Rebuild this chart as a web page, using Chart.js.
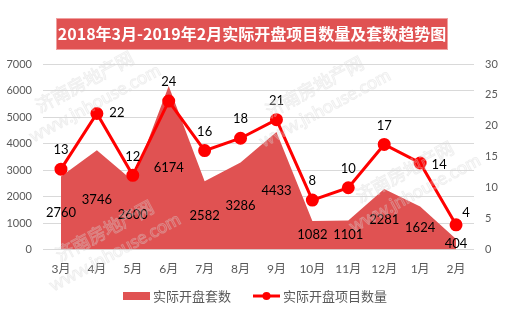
<!DOCTYPE html>
<html><head><meta charset="utf-8">
<script src="https://cdn.jsdelivr.net/npm/chart.js@4/dist/chart.umd.min.js"></script>
<style>html,body{margin:0;padding:0;background:#fff}#wrap{width:510px;height:330px;position:relative}</style>
</head><body><div id="wrap"><canvas id="c" width="510" height="330"></canvas></div>
<script>
const titleText = '2018年3月-2019年2月实际开盘项目数量及套数趋势图';
const categories = ['3月','4月','5月','6月','7月','8月','9月','10月','11月','12月','1月','2月'];
const unitsSold = [2760,3746,2600,6174,2582,3286,4433,1082,1101,2281,1624,404];
const projectCounts = [13,22,12,24,16,18,21,8,10,17,14,4];
const leftTicks = [0,1000,2000,3000,4000,5000,6000,7000];
const rightTicks = [0,5,10,15,20,25,30];
const seriesNames = ['实际开盘套数','实际开盘项目数量'];
const watermarkLines = ['济南房地产网','www.jnhouse.com'];

const AREA = '#e05252';
const LINE = '#ff0000';
const FONT = "Lato, 'Noto Sans CJK SC', sans-serif";
const CJK = "'Noto Sans CJK SC', sans-serif";
const GREY = '#595959';

const lineLabelShift = {1:[20,-1], 10:[19,2], 11:[10,-12]};

const decor = {
  id:'decor',
  beforeDraw(chart){
    const ctx = chart.ctx;
    ctx.save();
    ctx.fillStyle = '#fff';
    ctx.fillRect(0,0,chart.width,chart.height);
    ctx.fillStyle = AREA;
    ctx.fillRect(56,18,392,32);
    ctx.strokeStyle = '#f0a0a0';
    ctx.lineWidth = 1;
    ctx.strokeRect(56.5,18.5,391,31);
    ctx.fillStyle = '#fff';
    ctx.font = "bold 16px " + CJK;
    ctx.textAlign = 'center';
    ctx.textBaseline = 'middle';
    ctx.fillText(titleText, 252, 34);
    ctx.restore();
  },
  afterDatasetsDraw(chart){
    const ctx = chart.ctx;
    ctx.save();
    ctx.font = "13px " + FONT;
    ctx.fillStyle = '#000';
    ctx.textAlign = 'center';
    ctx.textBaseline = 'middle';
    const base = chart.scales.y.getPixelForValue(0);
    const m0 = chart.getDatasetMeta(0);
    m0.data.forEach((p,i)=>{
      const v = chart.data.datasets[0].data[i];
      ctx.fillText(String(v), p.x, (p.y + base)/2);
    });
    const m1 = chart.getDatasetMeta(1);
    m1.data.forEach((p,i)=>{
      const v = chart.data.datasets[1].data[i];
      const s = lineLabelShift[i] || [0,-19];
      ctx.fillText(String(v), p.x + s[0], p.y + s[1]);
    });
    ctx.restore();
  },
  afterDraw(chart){
    const ctx = chart.ctx;
    ctx.save();
    ctx.font = "13px " + CJK;
    ctx.textBaseline = 'middle';
    const w1 = ctx.measureText(seriesNames[0]).width;
    const w2 = ctx.measureText(seriesNames[1]).width;
    const sw = 27, gap = 3, between = 22;
    const total = sw + gap + w1 + between + sw + gap + w2;
    let x = chart.width/2 - total/2;
    const y = 296;
    ctx.fillStyle = AREA;
    ctx.fillRect(x, y-4, sw, 8);
    x += sw + gap;
    ctx.fillStyle = GREY;
    ctx.textAlign = 'left';
    ctx.fillText(seriesNames[0], x, y);
    x += w1 + between;
    ctx.strokeStyle = LINE; ctx.lineWidth = 3;
    ctx.beginPath(); ctx.moveTo(x, y); ctx.lineTo(x+sw, y); ctx.stroke();
    ctx.fillStyle = LINE;
    ctx.beginPath(); ctx.arc(x+sw/2, y, 4, 0, Math.PI*2); ctx.fill();
    x += sw + gap;
    ctx.fillStyle = GREY;
    ctx.fillText(seriesNames[1], x, y);
    const spots = [[40,113],[270,118],[60,262],[360,203]];
    ctx.strokeStyle = 'rgba(215,215,215,0.4)';
    ctx.lineWidth = 1;
    spots.forEach(([sx,sy])=>{
      ctx.save();
      ctx.translate(sx,sy);
      ctx.rotate(-0.49);
      ctx.textAlign='left';
      ctx.textBaseline='alphabetic';
      ctx.font = "18px " + CJK;
      ctx.strokeText(watermarkLines[0], 0, 0);
      ctx.font = "18px " + FONT;
      ctx.strokeText(watermarkLines[1], -20, 23);
      ctx.restore();
    });
    ctx.restore();
  }
};

new Chart(document.getElementById('c'), {
  data: {
    labels: categories,
    datasets: [
      {type:'line', label: seriesNames[0], data: unitsSold, yAxisID:'y',
       fill:'origin', backgroundColor: AREA, borderColor: AREA, borderWidth: 0,
       pointRadius: 0, tension: 0, order: 2},
      {type:'line', label: seriesNames[1], data: projectCounts, yAxisID:'y1',
       fill:false, borderColor: LINE, backgroundColor: LINE, borderWidth: 3,
       pointRadius: 5, pointBackgroundColor: LINE, pointBorderColor: LINE, tension: 0, order: 1}
    ]
  },
  options: {
    responsive: false,
    devicePixelRatio: 1,
    animation: false,
    layout: {padding: {top: 64, left: 0, right: 0, bottom: 42}},
    plugins: {legend:{display:false}, tooltip:{enabled:false}, title:{display:false}},
    scales: {
      x: {type:'category', offset:true, grid:{display:false, drawTicks:false}, border:{display:false},
          ticks:{color:GREY, font:{family:FONT, size:12}, padding:12, maxRotation:0}},
      y: {position:'left', min:0, max:7000,
          afterBuildTicks(ax){ ax.ticks = leftTicks.map(v=>({value:v})); },
          afterFit(ax){ ax.width = 43; },
          grid:{color:'#d9d9d9', drawTicks:false}, border:{display:false},
          ticks:{color:GREY, font:{family:FONT, size:11}, padding:11, callback:v=>String(v)}},
      y1: {position:'right', min:0, max:30,
          afterBuildTicks(ax){ ax.ticks = rightTicks.map(v=>({value:v})); },
          afterFit(ax){ ax.width = 36; },
          grid:{display:false, drawTicks:false}, border:{display:false},
          ticks:{color:GREY, font:{family:FONT, size:11}, padding:11, callback:v=>String(v)}}
    }
  },
  plugins: [decor]
});
</script>
</body></html>
